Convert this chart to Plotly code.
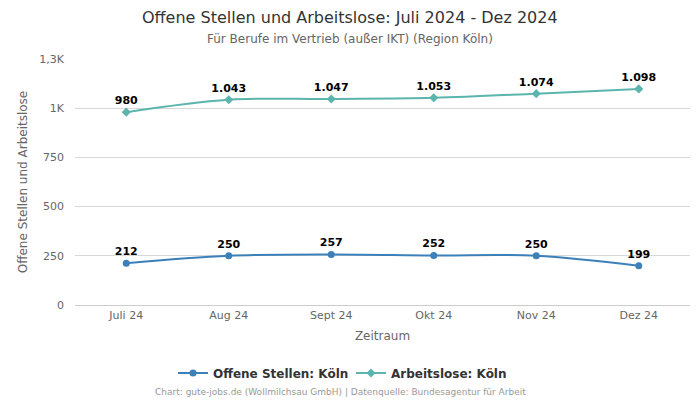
import plotly.graph_objects as go

months = ["Juli 24", "Aug 24", "Sept 24", "Okt 24", "Nov 24", "Dez 24"]
offene = [212, 250, 257, 252, 250, 199]
arbeitslose = [980, 1043, 1047, 1053, 1074, 1098]
tick_vals = [0, 250, 500, 750, 1000, 1250]
tick_text = ["0", "250", "500", "750", "1K", "1,3K"]

def fmt(v):
    return f"{v:,}".replace(",", ".")

W, H = 700, 400
L, R, T, B = 75, 10, 59, 95
pw, ph = W - L - R, H - T - B

def ypix(p):
    return (H - B - p) / ph

def xpix(p):
    return (p - L) / pw

fig = go.Figure()
fig.add_trace(go.Scatter(
    x=months, y=offene, name="Offene Stellen: Köln",
    mode="lines+markers+text", line=dict(color="#3c80b9", width=2, shape="spline"),
    marker=dict(symbol="circle", size=7, color="#3c80b9"),
    text=[fmt(v) for v in offene], textposition="top center",
    textfont=dict(family="DejaVu Sans", size=11, color="#000000", weight="bold"),
))
fig.add_trace(go.Scatter(
    x=months, y=arbeitslose, name="Arbeitslose: Köln",
    mode="lines+markers+text", line=dict(color="#5bb5ad", width=2, shape="spline"),
    marker=dict(symbol="diamond", size=7, color="#5bb5ad"),
    text=[fmt(v) for v in arbeitslose], textposition="top center",
    textfont=dict(family="DejaVu Sans", size=11, color="#000000", weight="bold"),
))

fig.update_layout(
    width=W, height=H,
    margin=dict(l=L, r=R, t=T, b=B, autoexpand=False),
    paper_bgcolor="white", plot_bgcolor="white",
    font=dict(family="DejaVu Sans", color="#666666", size=11),
    showlegend=True,
    legend=dict(orientation="h", x=xpix(351), xanchor="center", y=ypix(373), yanchor="middle",
                entrywidth=133, entrywidthmode="pixels", itemwidth=30,
                font=dict(size=12, color="#333333", weight="bold")),
    xaxis=dict(title=dict(text="Zeitraum", font=dict(size=12, color="#666666"), standoff=10),
               range=[-0.5, 5.5], showgrid=False, showline=True, linecolor="#cccccc",
               ticks="", automargin=False, tickfont=dict(size=11, color="#666666")),
    yaxis=dict(title=dict(text="Offene Stellen und Arbeitslose", font=dict(size=12, color="#666666"),
                          standoff=9),
               range=[0, 1250], tickvals=tick_vals, ticktext=tick_text, automargin=False,
               showgrid=True, gridcolor="#d8d8d8", zeroline=False,
               tickfont=dict(size=11, color="#666666"), ticklabelstandoff=10),
    annotations=[
        dict(text="Offene Stellen und Arbeitslose: Juli 2024 - Dez 2024",
             x=xpix(350), xref="paper", xanchor="center", y=ypix(17), yref="paper",
             yanchor="middle", showarrow=False, font=dict(size=16, color="#333333")),
        dict(text="Für Berufe im Vertrieb (außer IKT) (Region Köln)",
             x=xpix(350), xref="paper", xanchor="center", y=ypix(39), yref="paper",
             yanchor="middle", showarrow=False, font=dict(size=12, color="#666666")),
        dict(text="Chart: gute-jobs.de (Wollmilchsau GmbH) | Datenquelle: Bundesagentur für Arbeit",
             x=xpix(340), xref="paper", xanchor="center", y=ypix(392), yref="paper",
             yanchor="middle", showarrow=False, font=dict(size=9, color="#999999")),
    ],
)

fig.write_html("out.html", config={"displayModeBar": False},
               post_script="document.body.style.margin='0';")
